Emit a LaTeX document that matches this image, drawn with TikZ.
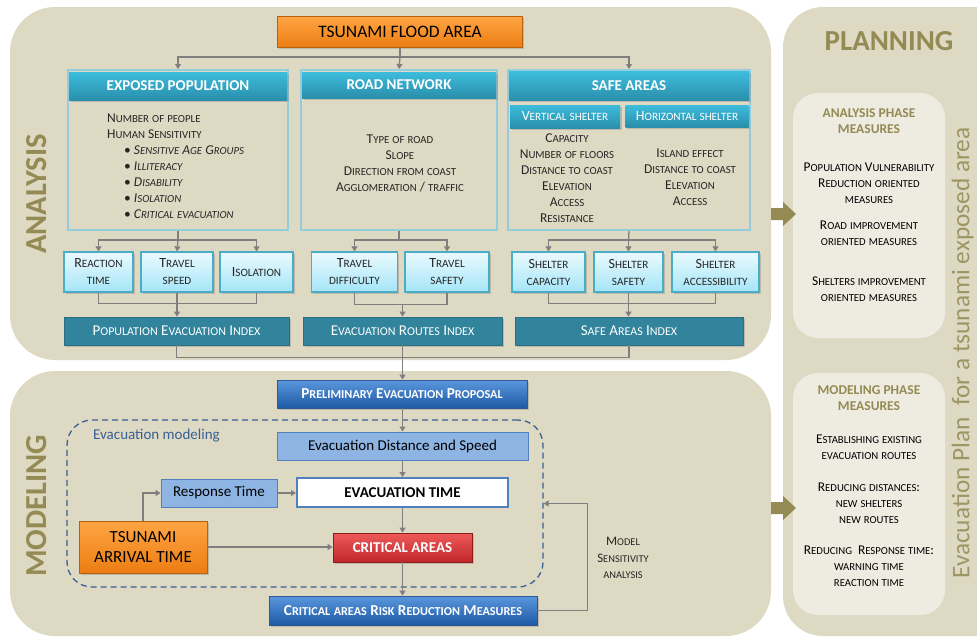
\documentclass[tikz,border=0pt]{standalone}
\usepackage{fontspec}
\setmainfont{Carlito}
\usetikzlibrary{arrows.meta,shadows,calc}
\makeatletter
\newcommand\scsz{\fontsize{\fpeval{0.8*\f@size}}{\f@baselineskip}\selectfont}
\makeatother
\ExplSyntaxOn
\cs_new_protected:Npn \fsc #1
  {
    \str_map_inline:nn {#1}
      {
        \tl_if_blank:nTF {##1}
          { \c_space_tl }
          {
            \int_compare:nNnTF { \lccode `##1 } = { `##1 }
              { { \scsz \uppercase {##1} } }
              { ##1 }
          }
      }
  }
\ExplSyntaxOff
\definecolor{tanbg}{HTML}{DDD9C3}
\definecolor{lightpanel}{HTML}{EEECE1}
\definecolor{olive}{HTML}{948A54}
\definecolor{headtop}{HTML}{3DBCDC}
\definecolor{headbot}{HTML}{2A8FAB}
\definecolor{outerblue}{HTML}{93CDDD}
\definecolor{cyantop}{HTML}{EBFAFE}
\definecolor{cyanbot}{HTML}{A4E5F8}
\definecolor{cyanborder}{HTML}{4BACC6}
\definecolor{idxfill}{HTML}{31849B}
\definecolor{idxborder}{HTML}{2A6F82}
\definecolor{bluetop}{HTML}{5A97DC}
\definecolor{bluebot}{HTML}{1E5AA6}
\definecolor{blueborder}{HTML}{2A5A95}
\definecolor{lblue}{HTML}{8DB4E2}
\definecolor{lblueborder}{HTML}{4F81BD}
\definecolor{orangetop}{HTML}{FFA544}
\definecolor{orangebot}{HTML}{EB7D12}
\definecolor{orangeborder}{HTML}{B8620F}
\definecolor{redtop}{HTML}{EE5A5A}
\definecolor{redbot}{HTML}{C0262A}
\definecolor{redborder}{HTML}{8E1C1C}
\definecolor{connc}{HTML}{7F7F7F}
\definecolor{dashc}{HTML}{3A5F96}
\definecolor{bodytext}{HTML}{262626}
\begin{document}
\begin{tikzpicture}[x=1pt,y=-1pt,
  shad/.style={drop shadow={opacity=0.35,shadow xshift=1.5pt,shadow yshift=-1.5pt}},
  conn/.style={draw=connc,line width=1.3pt,-{Triangle[width=6pt,length=5pt]}},
  link/.style={draw=connc,line width=1.3pt},
  outerbox/.style={draw=outerblue,line width=2pt,inner sep=0pt},
  headbox/.style={top color=headtop,bottom color=headbot,draw=none,inner sep=0pt,text=white,font=\bfseries\fontsize{15}{18}\selectfont,shad},
  subhead/.style={top color=headtop,bottom color=headbot,draw=none,inner sep=0pt,text=white,font=\fontsize{14}{16}\selectfont,shad},
  body/.style={text=bodytext,inner sep=0pt,font=\fontsize{13.5}{16}\selectfont},
  cyanbox/.style={top color=cyantop,bottom color=cyanbot,draw=cyanborder,line width=1.2pt,inner sep=0pt,align=center,text=bodytext,font=\fontsize{14}{17}\selectfont,minimum height=40pt,shad},
  idxbox/.style={fill=idxfill,draw=idxborder,line width=0.8pt,inner sep=0pt,text=white,font=\fontsize{15}{17}\selectfont,minimum height=28pt,shad},
  bluebox/.style={top color=bluetop,bottom color=bluebot,draw=blueborder,line width=0.8pt,inner sep=0pt,text=white,font=\bfseries\fontsize{15.2}{17}\selectfont,minimum height=28pt,shad},
  lbluebox/.style={fill=lblue,draw=lblueborder,line width=1pt,inner sep=0pt,text=black,font=\fontsize{15}{18}\selectfont,minimum height=28pt},
  orangebox/.style={top color=orangetop,bottom color=orangebot,draw=orangeborder,line width=0.8pt,inner sep=0pt,text=black,shad},
  redbox/.style={top color=redtop,bottom color=redbot,draw=redborder,line width=0.8pt,inner sep=0pt,text=white,font=\bfseries\fontsize{15}{18}\selectfont,minimum height=29pt,shad},
  phasetitle/.style={text=olive,inner sep=0pt,align=center,font=\bfseries\fontsize{13.5}{16}\selectfont},
  phaseitem/.style={text=black,inner sep=0pt,align=center,font=\fontsize{13.4}{16}\selectfont},
  bigtitle/.style={text=olive,inner sep=0pt,font=\bfseries\fontsize{30.5}{33}\selectfont}
]
\clip (0,0) rectangle (977,637);
\fill[white] (0,0) rectangle (977,637);
% panels
\fill[tanbg,rounded corners=45pt] (10,7) rectangle (771,360);
\fill[tanbg,rounded corners=45pt] (10,371) rectangle (771,636);
\fill[tanbg,rounded corners=40pt] (783,7) rectangle (1030,636);
\fill[lightpanel,rounded corners=25pt] (793,93) rectangle (945,338);
\fill[lightpanel,rounded corners=25pt] (793,373) rectangle (945,615);
% big arrows between panels
\fill[olive] (771,208) -- (783,208) -- (783,202) -- (796,214) -- (783,226) -- (783,220) -- (771,220) -- cycle;
\fill[olive] (771,502) -- (783,502) -- (783,496) -- (796,508) -- (783,520) -- (783,514) -- (771,514) -- cycle;
% side titles
\node[bigtitle,rotate=90] (tana) at (37,194) {ANALYSIS};
\node[bigtitle,rotate=90] (tmod) at (37,506) {MODELING};
\node[bigtitle,font=\bfseries\fontsize{29}{31}\selectfont] (tplan) at (889,41) {PLANNING};
\node[rotate=90,text=olive,opacity=0.85,inner sep=0pt,font=\fontsize{25.3}{28}\selectfont] (tevac) at (962.5,353) {Evacuation Plan\ \ for a tsunami exposed area};

% ---------- ANALYSIS ----------
\node[orangebox,font=\fontsize{17.5}{20}\selectfont,minimum width=245pt,minimum height=31pt] (flood) at (400,32) {TSUNAMI FLOOD AREA};

\node[outerbox,minimum width=220pt,minimum height=160pt] (ep) at (178,150) {};
\node[headbox,minimum width=218pt,minimum height=28pt] (eph) at (178,86) {EXPOSED POPULATION};
\node[body,align=left,anchor=west] (eptext) at (107,166) {\fsc{Number of people}\\\fsc{Human Sensitivity}\\
\hspace*{17pt}\textbullet\ \textit{\fsc{Sensitive Age Groups}}\\
\hspace*{17pt}\textbullet\ \textit{\fsc{Illiteracy}}\\
\hspace*{17pt}\textbullet\ \textit{\fsc{Disability}}\\
\hspace*{17pt}\textbullet\ \textit{\fsc{Isolation}}\\
\hspace*{17pt}\textbullet\ \textit{\fsc{Critical evacuation}}};

\node[outerbox,minimum width=196pt,minimum height=160pt] (rn) at (399,150) {};
\node[headbox,minimum width=194pt,minimum height=26pt] (rnh) at (399,85) {ROAD NETWORK};
\node[body,align=center] (rntext) at (400,163) {\fsc{Type of road}\\\fsc{Slope}\\\fsc{Direction from coast}\\\fsc{Agglomeration / traffic}};

\node[outerbox,minimum width=242pt,minimum height=160pt] (sa) at (629,150) {};
\node[headbox,minimum width=240pt,minimum height=29pt] (sah) at (629,86) {SAFE AREAS};
\node[subhead,minimum width=110pt,minimum height=23pt] (vsh) at (565,116.5) {\fsc{Vertical shelter}};
\node[subhead,minimum width=123pt,minimum height=22pt] (hsh) at (687,116) {\fsc{Horizontal shelter}};
\node[body,align=center] (vstext) at (567,178) {\fsc{Capacity}\\\fsc{Number of floors}\\\fsc{Distance to coast}\\\fsc{Elevation}\\\fsc{Access}\\\fsc{Resistance}};
\node[body,align=center] (hstext) at (690,177) {\fsc{Island effect}\\\fsc{Distance to coast}\\\fsc{Elevation}\\\fsc{Access}};

\coordinate (j0) at (400,57);
\draw[link] (flood.south) -- (j0);
\draw[conn] (j0) -| (ep.north);
\draw[conn] (j0) -- (rn.north);
\draw[conn] (j0) -| (sa.north);

% second row
\node[cyanbox,minimum width=69pt] (rt) at (98.5,272) {\fsc{Reaction}\\\fsc{time}};
\node[cyanbox,minimum width=72pt] (tsp) at (177,272) {\fsc{Travel}\\\fsc{speed}};
\node[cyanbox,minimum width=73pt] (iso) at (256.5,272) {\fsc{Isolation}};
\node[cyanbox,minimum width=86pt] (td) at (354.5,272) {\fsc{Travel}\\\fsc{difficulty}};
\node[cyanbox,minimum width=84pt] (tsf) at (447,272) {\fsc{Travel}\\\fsc{safety}};
\node[cyanbox,minimum width=73pt] (sc) at (548.5,272) {\fsc{Shelter}\\\fsc{capacity}};
\node[cyanbox,minimum width=69pt] (ss) at (628.5,272) {\fsc{Shelter}\\\fsc{safety}};
\node[cyanbox,minimum width=87pt] (sacc) at (715.5,272) {\fsc{Shelter}\\\fsc{accessibility}};

\coordinate (j1) at (178,240);
\draw[link] (ep.south) -- (j1);
\draw[conn] (j1) -| (rt.north);
\draw[conn] (j1) -- (tsp.north);
\draw[conn] (j1) -| (iso.north);
\coordinate (j2) at (399,240);
\draw[link] (rn.south) -- (j2);
\draw[conn] (j2) -| (td.north);
\draw[conn] (j2) -| (tsf.north);
\coordinate (j3) at (628.5,240);
\draw[link] (sa.south) -- (j3);
\draw[conn] (j3) -| (sc.north);
\draw[conn] (j3) -- (ss.north);
\draw[conn] (j3) -| (sacc.north);

% index row
\node[idxbox,minimum width=225pt] (pei) at (176.5,331) {\fsc{Population Evacuation Index}};
\node[idxbox,minimum width=199pt] (eri) at (402.5,331) {\fsc{Evacuation Routes Index}};
\node[idxbox,minimum width=228pt] (sai) at (629,331) {\fsc{Safe Areas Index}};

\draw[link] (rt.south) -- ++(0,11) -| (iso.south);
\draw[conn] (tsp.south) -- (tsp.south |- pei.north);
\draw[link] (td.south) -- ++(0,12) -| (tsf.south);
\coordinate (j4) at (402.5,304);
\draw[conn] (j4) -- (j4 |- eri.north);
\draw[link] (sc.south) -- ++(0,11) -| (sacc.south);
\draw[conn] (ss.south) -- (ss.south |- sai.north);

% ---------- MODELING ----------
\node[bluebox,minimum width=250pt] (prel) at (402,394) {\fsc{Preliminary Evacuation Proposal}};
\draw[link] (pei.south) -- ++(0,12) -| (sai.south);
\draw[conn] (eri.south) -- (eri.south |- prel.north);

\node[draw=dashc,dash pattern=on 6pt off 4pt,line width=1.3pt,rounded corners=25pt,minimum width=476pt,minimum height=167pt,inner sep=0pt] (mbox) at (305,503.5) {};
\node[text=dashc,anchor=west,inner sep=0pt,font=\fontsize{15}{18}\selectfont] (evlab) at (93,436) {Evacuation modeling};

\node[lbluebox,minimum width=251pt] (eds) at (402.5,446) {Evacuation Distance and Speed};
\node[lbluebox,minimum width=116pt] (rsp) at (219,493) {Response Time};
\node[fill=white,draw=lblueborder,line width=2pt,inner sep=0pt,minimum width=211pt,minimum height=29pt,font=\bfseries\fontsize{15}{17}\selectfont] (evt) at (402.5,492.5) {EVACUATION TIME};
\node[orangebox,align=center,minimum width=128pt,minimum height=52pt,font=\fontsize{17}{20}\selectfont] (tat) at (143,547) {TSUNAMI\\ARRIVAL TIME};
\node[redbox,minimum width=139pt] (crit) at (402.5,547.5) {CRITICAL AREAS};
\node[bluebox,minimum width=268pt,minimum height=29pt] (rrm) at (403,610.5) {\fsc{Critical areas Risk Reduction Measures}};
\node[text=bodytext,align=center,inner sep=0pt,font=\fontsize{13}{16.5}\selectfont] (msa) at (623,558) {\fsc{Model}\\\fsc{Sensitivity}\\\fsc{analysis}};

\draw[conn] (prel.south) -- (prel.south -| eds.north) -- (eds.north);
\draw[conn] (eds.south) -- (evt.north);
\draw[conn] (rsp.east) -- (rsp.east -| evt.west);
\draw[conn] (tat.north) |- (rsp.west);
\draw[conn] (tat.east) -- (tat.east -| crit.west);
\draw[conn] (evt.south) -- (crit.north);
\draw[conn] (crit.south) -- (crit.south |- rrm.north);
\draw[conn] (rrm.east) -- ++(50,0) |- (mbox.east);

% ---------- PLANNING ----------
\node[phasetitle] (pat) at (869,121) {ANALYSIS PHASE\\MEASURES};
\node[phaseitem] (pa1) at (869,183) {\fsc{Population Vulnerability}\\\fsc{Reduction oriented}\\\fsc{measures}};
\node[phaseitem] (pa2) at (869,233) {\fsc{Road improvement}\\\fsc{oriented measures}};
\node[phaseitem] (pa3) at (869,289) {\fsc{Shelters improvement}\\\fsc{oriented measures}};
\node[phasetitle] (pmt) at (869,398) {MODELING PHASE\\MEASURES};
\node[phaseitem] (pm1) at (869,447) {\fsc{Establishing existing}\\\fsc{evacuation routes}};
\node[phaseitem] (pm2) at (869,503) {\fsc{Reducing distances:}\\\fsc{new shelters}\\\fsc{new routes}};
\node[phaseitem] (pm3) at (869,566) {\fsc{Reducing}\ \ \fsc{Response time:}\\\fsc{warning time}\\\fsc{reaction time}};
\end{tikzpicture}
\end{document}
